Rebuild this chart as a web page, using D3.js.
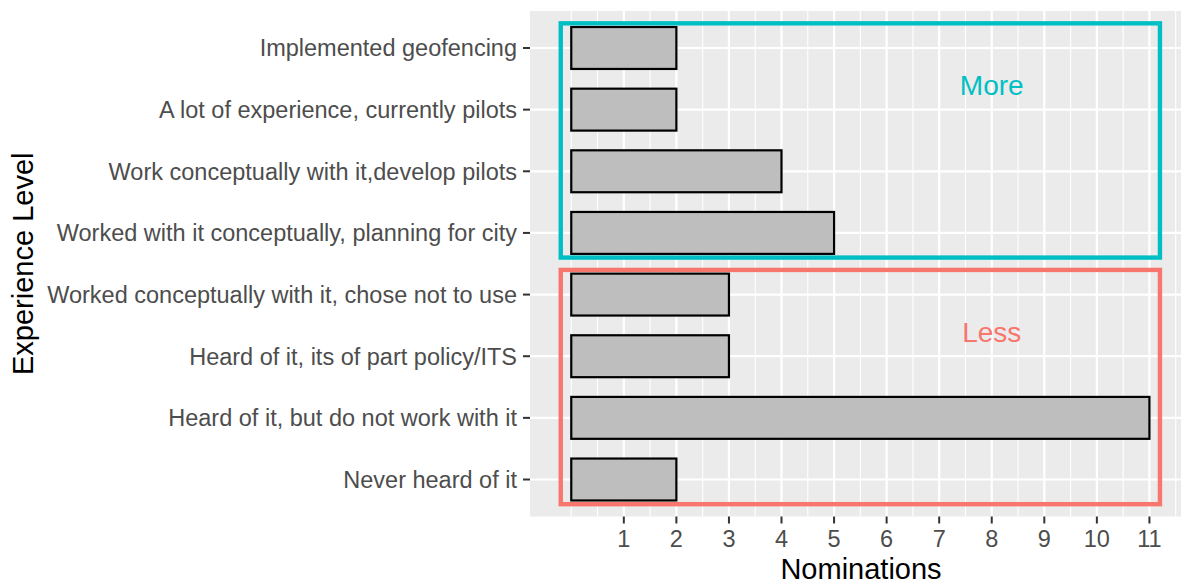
<!DOCTYPE html>
<html>
<head>
<meta charset="utf-8">
<script src="https://cdn.jsdelivr.net/npm/d3@7"></script>
<style>
  body { margin: 0; background: #fff; }
  svg { display: block; font-family: "Liberation Sans", Arial, sans-serif; }
</style>
</head>
<body>
<div id="chart"></div>
<script>
// Data
const categories = [
  "Implemented geofencing",
  "A lot of experience, currently pilots",
  "Work conceptually with it,develop pilots",
  "Worked with it conceptually, planning for city",
  "Worked conceptually with it, chose not to use",
  "Heard of it, its of part policy/ITS",
  "Heard of it, but do not work with it",
  "Never heard of it"
];
const nominations = [2, 2, 4, 5, 3, 3, 11, 2];
const xTicks = [1, 2, 3, 4, 5, 6, 7, 8, 9, 10, 11];
const groups = [
  {label: "More", x0: -0.2, x1: 11.2, y0: 4.6, y1: 8.4, lx: 8, ly: 7.4, color: "#00BFC4"},
  {label: "Less", x0: -0.2, x1: 11.2, y0: 0.6, y1: 4.4, lx: 8, ly: 3.4, color: "#F8766D"}
];

// Layout
const W = 1181, H = 585;
const panel = {left: 530, right: 1192, top: 11, bottom: 516.5};

const svg = d3.select("#chart").append("svg")
  .attr("width", W).attr("height", H);

const x = d3.scaleLinear().domain([-0.785, 11.81]).range([panel.left, panel.right]);
const y = d3.scalePoint().domain(categories).range([panel.top, panel.bottom]).padding(0.6);
// numeric position of discrete levels (top level = 8)
const yNum = d3.scaleLinear().domain([categories.length, 1])
  .range([y(categories[0]), y(categories[categories.length - 1])]);

// Panel background
svg.append("rect")
  .attr("x", panel.left).attr("y", panel.top)
  .attr("width", panel.right - panel.left).attr("height", panel.bottom - panel.top)
  .attr("fill", "#EBEBEB");

// Grid
const minor = d3.range(0, 12, 0.5).filter(v => !Number.isInteger(v) || v === 0);
svg.append("g").selectAll("line").data(minor).enter().append("line")
  .attr("x1", d => x(d)).attr("x2", d => x(d))
  .attr("y1", panel.top).attr("y2", panel.bottom)
  .attr("stroke", "#fff").attr("stroke-width", 1.1);
svg.append("g").selectAll("line").data(xTicks).enter().append("line")
  .attr("x1", d => x(d)).attr("x2", d => x(d))
  .attr("y1", panel.top).attr("y2", panel.bottom)
  .attr("stroke", "#fff").attr("stroke-width", 2.2);
svg.append("g").selectAll("line").data(categories).enter().append("line")
  .attr("x1", panel.left).attr("x2", panel.right)
  .attr("y1", d => y(d)).attr("y2", d => y(d))
  .attr("stroke", "#fff").attr("stroke-width", 2.2);

// Bars
const barH = y.step() * 0.68;
svg.append("g").selectAll("rect").data(categories).enter().append("rect")
  .attr("x", x(0))
  .attr("y", d => y(d) - barH / 2)
  .attr("width", (d, i) => x(nominations[i]) - x(0))
  .attr("height", barH)
  .attr("fill", "#BEBEBE")
  .attr("stroke", "#000")
  .attr("stroke-width", 2.2);

// Group boxes
svg.append("g").selectAll("rect").data(groups).enter().append("rect")
  .attr("x", d => x(d.x0))
  .attr("y", d => yNum(d.y1))
  .attr("width", d => x(d.x1) - x(d.x0))
  .attr("height", d => yNum(d.y0) - yNum(d.y1))
  .attr("fill", "none")
  .attr("stroke", d => d.color)
  .attr("stroke-width", 4.4);

svg.append("g").selectAll("text").data(groups).enter().append("text")
  .attr("x", d => x(d.lx))
  .attr("y", d => yNum(d.ly))
  .attr("dy", "0.36em")
  .attr("text-anchor", "middle")
  .attr("font-size", 28)
  .attr("fill", d => d.color)
  .text(d => d.label);

// Y axis
const yAxis = svg.append("g");
yAxis.selectAll("line").data(categories).enter().append("line")
  .attr("x1", panel.left - 7).attr("x2", panel.left)
  .attr("y1", d => y(d)).attr("y2", d => y(d))
  .attr("stroke", "#333").attr("stroke-width", 2);
yAxis.selectAll("text").data(categories).enter().append("text")
  .attr("x", panel.left - 13)
  .attr("y", d => y(d))
  .attr("dy", "0.36em")
  .attr("text-anchor", "end")
  .attr("font-size", 23.5)
  .attr("fill", "#4D4D4D")
  .text(d => d);

// X axis
const xAxis = svg.append("g");
xAxis.selectAll("line").data(xTicks).enter().append("line")
  .attr("x1", d => x(d)).attr("x2", d => x(d))
  .attr("y1", panel.bottom).attr("y2", panel.bottom + 7)
  .attr("stroke", "#333").attr("stroke-width", 2);
xAxis.selectAll("text").data(xTicks).enter().append("text")
  .attr("x", d => x(d))
  .attr("y", 547)
  .attr("text-anchor", "middle")
  .attr("font-size", 23.5)
  .attr("fill", "#4D4D4D")
  .text(d => d);

// Axis titles
svg.append("text")
  .attr("x", (panel.left + panel.right) / 2)
  .attr("y", 579)
  .attr("text-anchor", "middle")
  .attr("font-size", 29)
  .attr("fill", "#000")
  .text("Nominations");

svg.append("text")
  .attr("transform", `translate(33, ${(panel.top + panel.bottom) / 2}) rotate(-90)`)
  .attr("text-anchor", "middle")
  .attr("font-size", 29)
  .attr("fill", "#000")
  .text("Experience Level");
</script>
</body>
</html>
